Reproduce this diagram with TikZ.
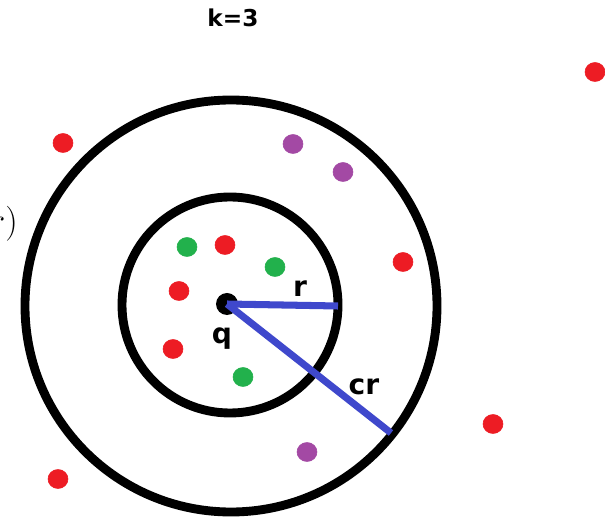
\documentclass[tikz,border=0pt]{standalone}
\usepackage{fontspec}
\setsansfont{DejaVu Sans}
\usepackage{xcolor}
\usepackage{tikz}
\usetikzlibrary{calc}

\definecolor{dotred}{HTML}{ED1C24}
\definecolor{dotgreen}{HTML}{22B14C}
\definecolor{dotpurple}{HTML}{A349A4}
\definecolor{lineblue}{HTML}{3F48CC}

\begin{document}
\begin{tikzpicture}[x=0.025cm, y=-0.025cm,
  ring/.style={line width=6.3pt},
  radial/.style={line width=5pt, lineblue},
  lbl/.style={font=\sffamily\bfseries\fontsize{20}{20}\selectfont, inner sep=0, anchor=base}]
\useasboundingbox (0,0) rectangle (605,517);
\fill[white] (0,0) rectangle (605,517);

% title and cut-off text at the left edge
\node[font=\sffamily\bfseries\fontsize{16.5}{16.5}\selectfont, inner sep=0, anchor=base] (title) at (233,27) {k=3};
\node[font=\fontsize{40}{40}\selectfont, inner sep=0, anchor=base east] (cut) at (18,233) {$r)$};

% the two rings round q
\draw[ring] (231,306) circle[radius=206];
\draw[ring] (230,305) circle[radius=108];

% query point and the two radii
\node[circle, fill=black, inner sep=0, minimum size=0.55cm] (q) at (227,304) {};
\coordinate (rEnd) at (338,306);
\coordinate (crEnd) at (391,433);
\draw[radial] (q.center) -- (rEnd);
\draw[radial] (q.center) -- (crEnd);
\node[lbl] (qlabel) at (222,344) {q};
\node[lbl] (rlabel) at (300,297) {r};
\node[lbl] (crlabel) at (364,395) {cr};

% points
\filldraw[dotred] (63,143) circle[x radius=10, y radius=9.5];
\filldraw[dotred] (595,72) circle[x radius=10, y radius=9.5];
\filldraw[dotred] (225,245) circle[x radius=10, y radius=9.5];
\filldraw[dotred] (179,291) circle[x radius=10, y radius=9.5];
\filldraw[dotred] (173,349) circle[x radius=10, y radius=9.5];
\filldraw[dotred] (403,262) circle[x radius=10, y radius=9.5];
\filldraw[dotred] (493,424) circle[x radius=10, y radius=9.5];
\filldraw[dotred] (58,479) circle[x radius=10, y radius=9.5];
\filldraw[dotgreen] (187,247) circle[x radius=10, y radius=9.5];
\filldraw[dotgreen] (275,267) circle[x radius=10, y radius=9.5];
\filldraw[dotgreen] (243,377) circle[x radius=10, y radius=9.5];
\filldraw[dotpurple] (293,144) circle[x radius=10, y radius=9.5];
\filldraw[dotpurple] (343,172) circle[x radius=10, y radius=9.5];
\filldraw[dotpurple] (307,452) circle[x radius=10, y radius=9.5];
\end{tikzpicture}
\end{document}
